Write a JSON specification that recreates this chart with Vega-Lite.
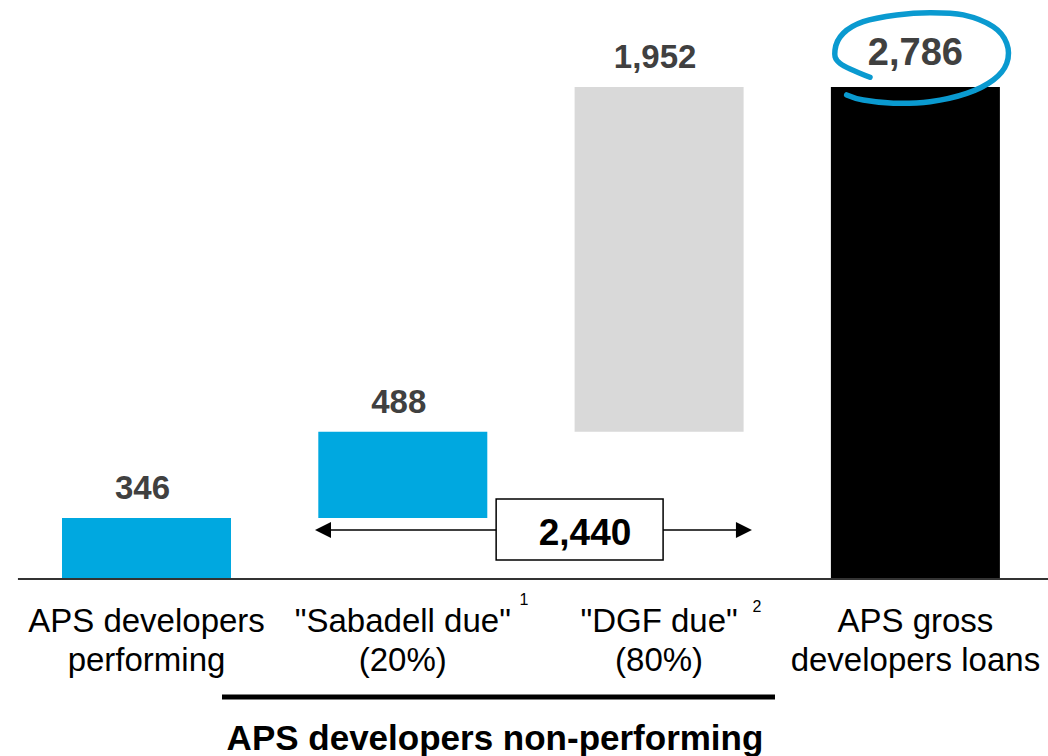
{
  "$schema": "https://vega.github.io/schema/vega-lite/v6.json",
  "width": 1048,
  "height": 756,
  "padding": 0,
  "autosize": {"type": "none"},
  "background": "white",
  "config": {"view": {"stroke": null}, "font": "Liberation Sans"},
  "datasets": {
    "bars": [
      {"slot": 0, "value": 0, "end": 346, "label": "346", "kind": "performing"},
      {"slot": 1, "value": 346, "end": 834, "label": "488", "kind": "sabadell"},
      {"slot": 2, "value": 834, "end": 2786, "label": "1,952", "kind": "dgf"},
      {"slot": 3, "value": 0, "end": 2786, "label": "2,786", "kind": "total"}
    ],
    "categories": [
      {"slot": 0, "value": -300, "text": "APS developers|performing"},
      {"slot": 1, "value": -300, "text": "\"Sabadell due\"|(20%)"},
      {"slot": 2, "value": -300, "text": "\"DGF due\"|(80%)"},
      {"slot": 3, "value": -300, "text": "APS gross|developers loans"}
    ],
    "ellipse": [
      {"step": 1, "slot": 2.8229, "value": 2841},
      {"step": 2, "slot": 2.7058, "value": 2920},
      {"step": 3, "slot": 2.6863, "value": 2995},
      {"step": 4, "slot": 2.7187, "value": 3090},
      {"step": 5, "slot": 2.7967, "value": 3156},
      {"step": 6, "slot": 2.9270, "value": 3194},
      {"step": 7, "slot": 3.0570, "value": 3207},
      {"step": 8, "slot": 3.1869, "value": 3194},
      {"step": 9, "slot": 3.3039, "value": 3127},
      {"step": 10, "slot": 3.3562, "value": 3033},
      {"step": 11, "slot": 3.3562, "value": 2920},
      {"step": 12, "slot": 3.3039, "value": 2826},
      {"step": 13, "slot": 3.2002, "value": 2750},
      {"step": 14, "slot": 3.0570, "value": 2703},
      {"step": 15, "slot": 2.9138, "value": 2694},
      {"step": 16, "slot": 2.7967, "value": 2712},
      {"step": 17, "slot": 2.7319, "value": 2741}
    ]
  },
  "encoding": {
    "x": {"field": "slot", "type": "quantitative", "scale": {"domain": [-0.5716, 3.5174], "nice": false, "zero": false, "padding": 0}, "axis": null},
    "y": {"field": "value", "type": "quantitative", "scale": {"domain": [-1002.3, 3278.6], "nice": false, "zero": false, "padding": 0}, "axis": null}
  },
  "layer": [
    {
      "data": {"name": "bars"},
      "mark": {"type": "bar", "width": 169},
      "encoding": {
        "y2": {"field": "end"},
        "color": {"field": "kind", "type": "nominal", "legend": null,
          "scale": {"domain": ["performing", "sabadell", "dgf", "total"], "range": ["#00A8E0", "#00A8E0", "#D9D9D9", "#000000"]}}
      }
    },
    {
      "data": {"name": "bars"},
      "transform": [{"filter": "datum.slot < 3"}],
      "mark": {"type": "text", "fontSize": 33, "fontWeight": "bold", "color": "#404040", "baseline": "alphabetic", "align": "center", "dy": -19, "dx": -4},
      "encoding": {"y": {"field": "end", "type": "quantitative"}, "text": {"field": "label"}}
    },
    {
      "data": {"name": "bars"},
      "transform": [{"filter": "datum.slot == 3"}],
      "mark": {"type": "text", "fontSize": 38, "fontWeight": "bold", "color": "#404040", "baseline": "alphabetic", "align": "center", "dy": -22},
      "encoding": {"y": {"field": "end", "type": "quantitative"}, "text": {"field": "label"}}
    },
    {
      "data": {"name": "ellipse"},
      "mark": {"type": "line", "interpolate": "cardinal", "color": "#0A9AD0", "strokeWidth": 5.5, "strokeCap": "round"},
      "encoding": {"order": {"field": "step", "type": "quantitative"}}
    },
    {
      "data": {"values": [{"slot": -0.5016, "slot2": 3.5174, "value": 0}]},
      "mark": {"type": "rule", "color": "#333333", "strokeWidth": 2},
      "encoding": {"x2": {"field": "slot2"}}
    },
    {
      "data": {"values": [{"slot": 0.6887, "slot2": 2.3311, "value": 277.5}]},
      "mark": {"type": "rule", "color": "#000000", "strokeWidth": 1.5},
      "encoding": {"x2": {"field": "slot2"}}
    },
    {
      "data": {"values": [{"slot": 0.6887, "value": 277.5, "dir": "left"}, {"slot": 2.3311, "value": 277.5, "dir": "right"}]},
      "mark": {"type": "point", "filled": true, "color": "#000000", "size": 256, "opacity": 1},
      "encoding": {"shape": {"field": "dir", "type": "nominal", "legend": null,
        "scale": {"domain": ["left", "right"], "range": ["M1,-1L-1,0L1,1Z", "M-1,-1L1,0L-1,1Z"]}}}
    },
    {
      "data": {"values": [{"slot": 1.3642, "slot2": 2.0156, "value": 107.6, "value2": 453}]},
      "mark": {"type": "rect", "fill": "white", "stroke": "#000000", "strokeWidth": 1.5},
      "encoding": {"x2": {"field": "slot2"}, "y2": {"field": "value2"}}
    },
    {
      "data": {"values": [{"slot": 1.7109, "value": 192.5, "text": "2,440"}]},
      "mark": {"type": "text", "fontSize": 37, "fontWeight": "bold", "color": "#000000", "baseline": "alphabetic", "align": "center"},
      "encoding": {"text": {"field": "text"}}
    },
    {
      "data": {"name": "categories"},
      "mark": {"type": "text", "fontSize": 33, "color": "#000000", "baseline": "alphabetic", "align": "center", "lineBreak": "|", "lineHeight": 39},
      "encoding": {"text": {"field": "text"}}
    },
    {
      "data": {"values": [{"slot": 1.4731, "value": -147, "text": "1"}, {"slot": 2.3823, "value": -187, "text": "2"}]},
      "mark": {"type": "text", "fontSize": 16, "color": "#000000", "baseline": "alphabetic", "align": "center"},
      "encoding": {"text": {"field": "text"}}
    },
    {
      "data": {"values": [{"slot": 0.2946, "slot2": 2.4522, "value": -668}]},
      "mark": {"type": "rule", "color": "#000000", "strokeWidth": 5},
      "encoding": {"x2": {"field": "slot2"}}
    },
    {
      "data": {"values": [{"slot": 1.3597, "value": -968, "text": "APS developers non-performing"}]},
      "mark": {"type": "text", "fontSize": 35, "fontWeight": "bold", "color": "#000000", "baseline": "alphabetic", "align": "center"},
      "encoding": {"text": {"field": "text"}}
    }
  ]
}
